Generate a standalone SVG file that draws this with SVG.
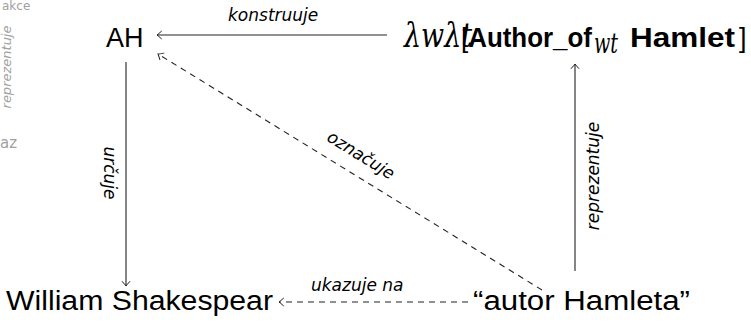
<svg xmlns="http://www.w3.org/2000/svg" width="751" height="323" viewBox="0 0 751 323">
<style>
.lbl{font-family:"Liberation Sans",Arial,sans-serif;font-size:27px;fill:#000}
.edge{font-family:"DejaVu Sans",sans-serif;font-style:italic;font-size:17px;fill:#000}
.ghost{font-family:"DejaVu Sans",sans-serif;fill:#a0a0a0}
.ln{fill:none;stroke:#222;stroke-width:1.1}
.dash{stroke-dasharray:6 5}
.b{font-weight:bold}
.m{font-family:"DejaVu Serif","Liberation Serif",serif;font-style:italic}
</style>
<defs>
<marker id="ah" viewBox="-6 -5 8 10" markerWidth="8" markerHeight="10" refX="0" refY="0" orient="auto" markerUnits="userSpaceOnUse">
<path d="M -4.5 -3.8 Q -1.2 -0.8 0 0 Q -1.2 0.8 -4.5 3.8" fill="none" stroke="#222" stroke-width="1" stroke-linecap="round"/>
</marker>
</defs>
<g id="ghost-text">
<text class="ghost" x="2" y="10" font-size="12">akce</text>
<text class="ghost" font-size="13" font-style="italic" text-anchor="middle" transform="translate(11,67) rotate(-90)">reprezentuje</text>
<text class="ghost" x="0" y="148" font-size="15">az</text>
</g>
<g id="connectors">
<line class="ln" x1="387" y1="35" x2="157" y2="35" marker-end="url(#ah)"/>
<line class="ln" x1="126" y1="62" x2="126" y2="286" marker-end="url(#ah)"/>
<line class="ln" x1="575" y1="271" x2="575" y2="64" marker-end="url(#ah)" stroke="#555"/>
<line class="ln dash" x1="468" y1="302" x2="279" y2="302" marker-end="url(#ah)"/>
<line class="ln dash" x1="542" y1="290" x2="158" y2="54" marker-end="url(#ah)"/>
<text class="edge" x="228" y="21">konstruuje</text>
<text class="edge" text-anchor="middle" transform="translate(103.5,173) rotate(90)">určuje</text>
<text class="edge" text-anchor="middle" transform="translate(599,176) rotate(-90)">reprezentuje</text>
<text class="edge" text-anchor="middle" transform="translate(358,160) rotate(31.7)">označuje</text>
<text class="edge" x="311" y="291">ukazuje na</text>
</g>
<g id="node-AH">
<text class="lbl" x="106" y="47" font-size="28">AH</text>
</g>
<g id="node-intension">
<text class="lbl m" font-size="20" transform="translate(404,47) scale(1,1.25)">λwλt</text>
<text class="lbl" x="461" y="47" font-size="28" textLength="131" lengthAdjust="spacingAndGlyphs">[<tspan class="b" font-size="27">Author_of</tspan></text>
<text class="lbl m" x="594" y="53" font-size="16" textLength="24" lengthAdjust="spacingAndGlyphs">wt</text>
<text class="lbl b" x="630" y="47" font-size="28" textLength="105" lengthAdjust="spacingAndGlyphs">Hamlet</text>
<text class="lbl" x="739" y="47" font-size="28">]</text>
</g>
<g id="node-shakespeare">
<text class="lbl" x="6" y="310" font-size="28" textLength="267" lengthAdjust="spacingAndGlyphs">William Shakespear</text>
</g>
<g id="node-autor">
<text class="lbl" x="473" y="310" font-size="28" textLength="217" lengthAdjust="spacingAndGlyphs">“autor Hamleta”</text>
</g>
</svg>
